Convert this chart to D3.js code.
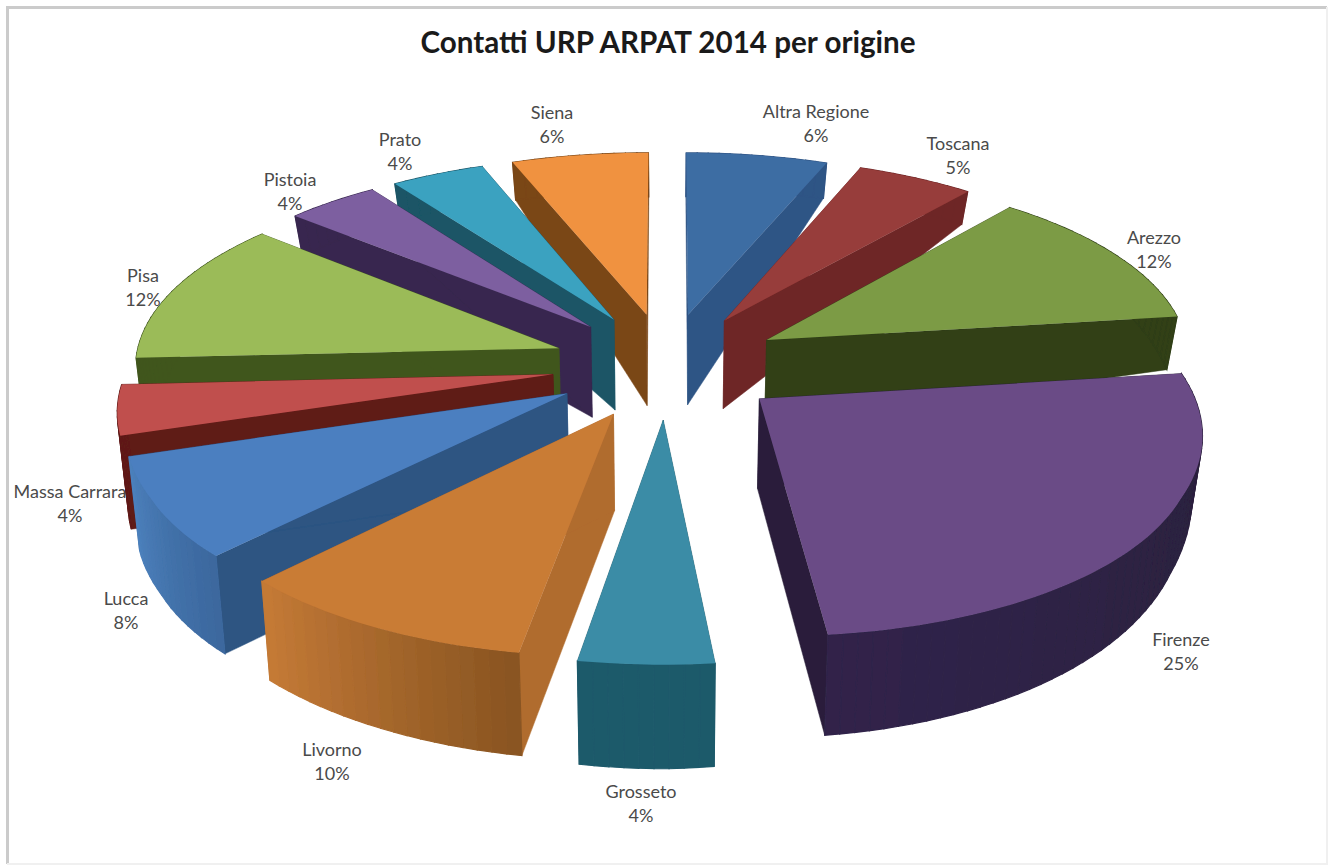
<!DOCTYPE html>
<html>
<head>
<meta charset="utf-8">
<title>Contatti URP ARPAT 2014 per origine</title>
<script src="https://cdn.jsdelivr.net/npm/d3@7"></script>
<style>
  html, body { margin: 0; padding: 0; background: #fff; }
  svg { display: block; }
  text { font-family: Lato, "Open Sans", sans-serif; }
</style>
</head>
<body>
<script>
// valori (le etichette mostrano il valore arrotondato)
var categorie = ["Altra Regione", "Toscana", "Arezzo", "Firenze", "Grosseto", "Livorno", "Lucca", "Massa Carrara", "Pisa", "Pistoia", "Prato", "Siena"];
var percentuali = [6.0, 5.0, 12.0, 25.4, 4.2, 9.6, 8.0, 4.0, 12.0, 4.0, 4.0, 5.8];

// colori: faccia sopra, lati, parete esterna (inizio / fine)
var coloriTop = ["#3e6da3", "#973c3a", "#7c9b45", "#6a4c86", "#3a8ca6", "#c97b36", "#4c7fc0", "#c0504d", "#9bbb59", "#7d5fa0", "#3ba2c0", "#f09240"];
var coloriLato = ["#2f5485", "#6e2727", "#303f18", "#2a1f3a", "#1e5a6b", "#b06c2e", "#2d5482", "#5f1a17", "#40561f", "#38284f", "#1b5566", "#7a4616"];
var coloriMuroA = ["#2f5485", "#6e2727", "#303f18", "#2a1f3a", "#1e5a6b", "#8a5522", "#3c689e", "#5f1a17", "#40561f", "#38284f", "#1b5566", "#7a4616"];
var coloriMuroB = ["#2f5485", "#6e2727", "#303f18", "#30244a", "#1e5a6b", "#c47a36", "#4c80bc", "#5f1a17", "#40561f", "#38284f", "#1b5566", "#7a4616"];

// posizione delle etichette (centro del nome)
var posEtichette = [[816, 112], [958, 144], [1154, 238], [1181, 640], [641, 792], [332, 750], [126, 599], [70, 492], [143, 276], [290, 180], [400, 140], [552, 113]];

var width = 1328, height = 866;
var cx = 667, cy = 365;
var esplosione = 0.26, raggio = 0.96;

var svg = d3.select("body").append("svg")
    .attr("width", width)
    .attr("height", height);

var filtro = svg.append("defs").append("filter").attr("id", "sfoca");
filtro.append("feGaussianBlur").attr("stdDeviation", 0.7);

// cornice: sopra e a sinistra si vede, a destra e sotto appena
svg.append("path").attr("d", "M7.5,864V7.5H1327")
    .attr("fill", "none").attr("stroke", "#cbcbcb").attr("stroke-width", 3);
svg.append("path").attr("d", "M1327,7V864H7")
    .attr("fill", "none").attr("stroke", "#f0f0f0").attr("stroke-width", 2);

svg.append("text")
    .attr("x", 668).attr("y", 53)
    .attr("text-anchor", "middle")
    .attr("font-size", 29.6)
    .attr("font-weight", 700)
    .attr("fill", "#1a1a1a")
    .text("Contatti URP ARPAT 2014 per origine");

// prospettiva: y = verso chi guarda, z = 0 sopra, 1 sotto
var scalaProf = d3.scaleLinear().domain([-1.2, -0.25, 0.3, 1.2]).range([46, 92, 98, 104]);
var scalaX = d3.scaleLinear().domain([-1.2, -0.6, 0, 0.6, 1.2]).range([395, 418, 442, 486, 545]);
// la parete si accorcia verso i lati, molto di piu' a destra
var caloDestra = d3.scaleLinear().domain([0.3, 1.1]).range([33, 10]).clamp(true);
var caloSinistra = d3.scaleLinear().domain([-0.5, 0]).range([27, 4]).clamp(true);
var ky = 204, t = 0.139;

function proietta(p, z) {
    var sx = cx + scalaX(p[1]) * p[0];
    var sy = cy + ky * p[1] / (1 - t * p[1]);
    var calo = p[0] > 0 ? caloDestra(p[1]) : caloSinistra(p[1]);
    var prof = scalaProf(p[1]) - calo * Math.abs(p[0]);
    return [sx - z * 0.02 * (sx - cx), sy + z * prof];
}

var torta = d3.pie().sort(null).value(function (d) { return d; });
var spicchi = torta(percentuali).map(function (s, i) {
    var mid = (s.startAngle + s.endAngle) / 2;
    var centro = [esplosione * Math.sin(mid), -esplosione * Math.cos(mid)];
    var passi = Math.max(4, Math.round((s.endAngle - s.startAngle) / 0.03));
    var arco = d3.range(passi + 1).map(function (j) {
        var a = s.startAngle + (s.endAngle - s.startAngle) * j / passi;
        return [centro[0] + raggio * Math.sin(a), centro[1] - raggio * Math.cos(a)];
    });
    return { i: i, mid: mid, centro: centro, arco: arco };
});

var linea = d3.line();
var chiusa = function (punti) { return linea(punti) + "Z"; };

// dal fondo verso chi guarda
var ordinati = spicchi.slice().sort(function (a, b) {
    return a.centro[1] - b.centro[1];
});

var g = svg.append("g").attr("filter", "url(#sfoca)");

ordinati.forEach(function (s) {
    var gs = g.append("g");
    var primo = s.arco[0], ultimo = s.arco[s.arco.length - 1];

    [primo, ultimo].forEach(function (bordo) {
        gs.append("path")
            .attr("d", chiusa([proietta(s.centro, 0), proietta(bordo, 0), proietta(bordo, 1), proietta(s.centro, 1)]))
            .attr("fill", coloriLato[s.i])
            .attr("stroke", coloriLato[s.i])
            .attr("stroke-width", 0.5);
    });

    var tinta = d3.interpolateRgb(coloriMuroA[s.i], coloriMuroB[s.i]);
    d3.pairs(s.arco).forEach(function (c, j) {
        var colore = tinta(j / (s.arco.length - 2 || 1));
        gs.append("path")
            .attr("d", chiusa([proietta(c[0], 0), proietta(c[1], 0), proietta(c[1], 1), proietta(c[0], 1)]))
            .attr("fill", colore)
            .attr("stroke", colore)
            .attr("stroke-width", 1.2);
    });

    gs.append("path")
        .attr("d", chiusa([s.centro].concat(s.arco).map(function (p) { return proietta(p, 0); })))
        .attr("fill", coloriTop[s.i]);
});

var etichette = svg.append("g")
    .attr("font-size", 18)
    .attr("fill", "#4a4a4a")
    .attr("text-anchor", "middle");

categorie.forEach(function (nome, i) {
    var pos = posEtichette[i];
    etichette.append("text").attr("x", pos[0]).attr("y", pos[1] + 6).text(nome);
    etichette.append("text").attr("x", pos[0]).attr("y", pos[1] + 30).text(Math.round(percentuali[i]) + "%");
});
</script>
</body>
</html>
